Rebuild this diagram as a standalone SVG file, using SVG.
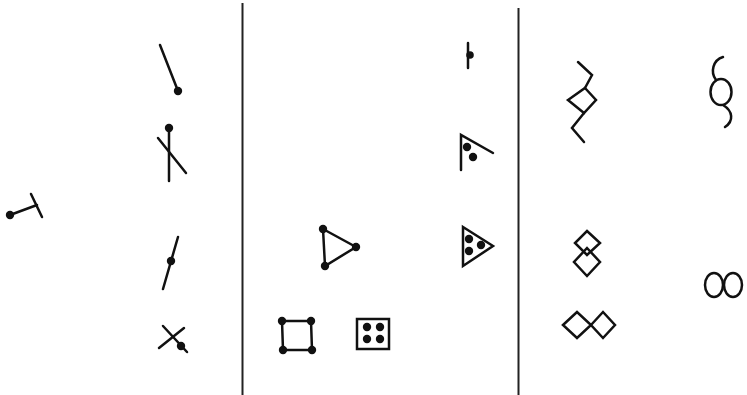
<svg xmlns="http://www.w3.org/2000/svg" width="747" height="395" viewBox="0 0 747 395">
<style>
.s{fill:none;stroke:#111;stroke-width:2.5;stroke-linecap:round;stroke-linejoin:miter}
.d{fill:#111}
.sep{stroke:#222;stroke-width:2}
</style>
<rect width="747" height="395" fill="#fff"/>
<g id="separators">
<line class="sep" x1="242.5" y1="3" x2="242.5" y2="395"/>
<line class="sep" x1="518.5" y1="8" x2="518.5" y2="395"/>
</g>
<g id="sym-t">
<line class="s" x1="10" y1="215" x2="37" y2="205"/>
<line class="s" x1="31" y1="194" x2="42" y2="217"/>
<circle class="d" cx="10" cy="215" r="4.2"/>
</g>
<g id="sym-line-dot">
<line class="s" x1="160" y1="45" x2="178" y2="91"/>
<circle class="d" cx="178" cy="91" r="4.2"/>
</g>
<g id="sym-cross-dot">
<line class="s" x1="169" y1="128" x2="169" y2="181"/>
<line class="s" x1="158" y1="138" x2="186" y2="173"/>
<circle class="d" cx="169" cy="128" r="4.2"/>
</g>
<g id="sym-slash-dot">
<line class="s" x1="178" y1="237" x2="163" y2="289"/>
<circle class="d" cx="171" cy="261" r="4.2"/>
</g>
<g id="sym-x-dot">
<line class="s" x1="163" y1="326" x2="187" y2="352"/>
<line class="s" x1="159" y1="348" x2="184" y2="328"/>
<circle class="d" cx="181" cy="346" r="4.2"/>
</g>
<g id="sym-triangle">
<polygon class="s" points="323,229 356,247 325,266"/>
<circle class="d" cx="323" cy="229" r="4.2"/>
<circle class="d" cx="356" cy="247" r="4.2"/>
<circle class="d" cx="325" cy="266" r="4.2"/>
</g>
<g id="sym-square">
<polygon class="s" points="282,321 311,321 312,350 283,350"/>
<circle class="d" cx="282" cy="321" r="4.2"/>
<circle class="d" cx="311" cy="321" r="4.2"/>
<circle class="d" cx="283" cy="350" r="4.2"/>
<circle class="d" cx="312" cy="350" r="4.2"/>
</g>
<g id="sym-box-dots">
<rect class="s" x="357" y="319" width="32" height="30"/>
<circle class="d" cx="367" cy="327" r="4.2"/>
<circle class="d" cx="380" cy="327" r="4.2"/>
<circle class="d" cx="367" cy="339" r="4.2"/>
<circle class="d" cx="380" cy="339" r="4.2"/>
</g>
<g id="sym-bar-dot">
<line class="s" x1="468" y1="43" x2="468" y2="68"/>
<circle class="d" cx="470" cy="55" r="3.8"/>
</g>
<g id="sym-angle-dots">
<polyline class="s" points="461,170 461,135 493,153"/>
<circle class="d" cx="467" cy="147" r="4.2"/>
<circle class="d" cx="473" cy="157" r="4.2"/>
</g>
<g id="sym-triangle-dots">
<polygon class="s" points="463,227 493,246 463,266"/>
<circle class="d" cx="469" cy="239" r="4.2"/>
<circle class="d" cx="469" cy="251" r="4.2"/>
<circle class="d" cx="481" cy="245" r="4.2"/>
</g>
<g id="sym-zigzag-diamond">
<polyline class="s" points="578,62 592,75 585,88"/>
<polygon class="s" points="585,88 596,100 584,113 568,100"/>
<polyline class="s" points="584,113 572,128 584,142"/>
</g>
<g id="sym-stacked-diamonds">
<polygon class="s" points="587,231 600,243 587,255 575,243"/>
<polygon class="s" points="587,248 600,262 587,276 574,262"/>
</g>
<g id="sym-side-diamonds">
<polygon class="s" points="563,325 577,312 591,325 577,338"/>
<polygon class="s" points="591,325 603,312 615,325 603,338"/>
</g>
<g id="sym-hook-loop">
<path class="s" d="M723,57 C713,60 710,72 716,80"/>
<ellipse class="s" cx="721" cy="92" rx="10.5" ry="13"/>
<path class="s" d="M723,105 C733,111 734,121 725,127"/>
</g>
<g id="sym-infinity">
<ellipse class="s" cx="714" cy="285" rx="9" ry="12"/>
<ellipse class="s" cx="733" cy="285" rx="9" ry="12"/>
</g>
</svg>
